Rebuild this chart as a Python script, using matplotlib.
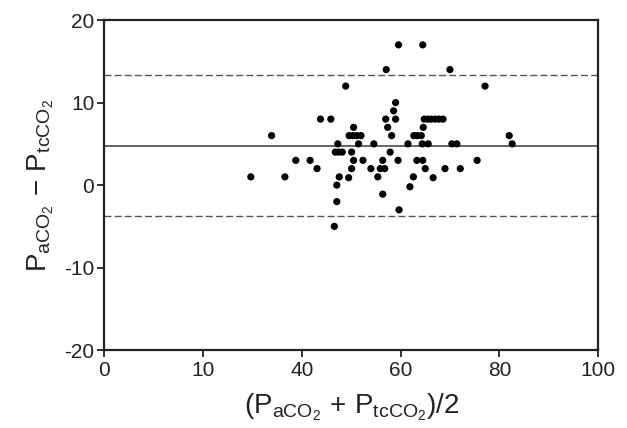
import matplotlib
matplotlib.use("Agg")
import matplotlib.pyplot as plt

plt.rcParams['font.family'] = ['Liberation Sans', 'DejaVu Sans']
plt.rcParams['mathtext.fontset'] = 'custom'
plt.rcParams['mathtext.rm'] = 'Liberation Sans'
plt.rcParams['mathtext.it'] = 'Liberation Sans:italic'
plt.rcParams['axes.unicode_minus'] = False

# Data: mean of the two measurements (x) and their difference (y)
mean_vals = [
    59.6, 64.5, 57.1, 70.0, 48.9, 77.1, 59.0, 58.6,
    43.8, 45.9, 57.0, 59.0, 64.8, 65.5, 66.2, 67.0, 67.8, 68.6,
    50.5, 57.4, 64.6,
    33.9, 49.6, 50.4, 51.2, 52.0, 58.2, 62.7, 63.4, 64.2, 82.0,
    47.3, 51.5, 54.6, 61.5, 64.4, 65.6, 70.4, 71.4, 82.6,
    46.8, 47.5, 48.2, 50.1, 57.9,
    38.8, 41.7, 50.5, 52.4, 56.4, 59.5, 63.3, 64.5, 75.5,
    43.1, 50.1, 54.0, 55.9, 56.8, 65.0, 69.0, 72.1,
    29.7, 36.6, 47.6, 49.5, 55.4, 62.6, 66.6,
    47.1, 61.9, 56.4, 47.1, 59.7, 46.6,
]
diff_vals = [
    17, 17, 14, 14, 12, 12, 10, 9,
    8, 8, 8, 8, 8, 8, 8, 8, 8, 8,
    7, 7, 7,
    6, 6, 6, 6, 6, 6, 6, 6, 6, 6,
    5, 5, 5, 5, 5, 5, 5, 5, 5,
    4, 4, 4, 4, 4,
    3, 3, 3, 3, 3, 3, 3, 3, 3,
    2, 2, 2, 2, 2, 2, 2, 2,
    1, 1, 1, 0.9, 1, 1, 0.9,
    0, -0.2, -1.1, -2, -3, -5,
]
bias = 4.8
upper_loa = 13.3
lower_loa = -3.7

xtick_pos = [0, 20, 40, 60, 80, 100]
xtick_labels = ["0", "10", "40", "60", "80", "100"]
ytick_pos = [-20, -10, 0, 10, 20]

fig = plt.figure(figsize=(6.27, 4.28), dpi=100)
ax = fig.add_axes([0.166, 0.182, 0.788, 0.771])

ax.axhline(bias, color='#4a4a4a', lw=1.2, zorder=1)
ax.axhline(upper_loa, color='#555555', lw=1.0, ls=(0, (5, 2.3)), zorder=1)
ax.axhline(lower_loa, color='#555555', lw=1.0, ls=(0, (5, 2.3)), zorder=1)

ax.scatter(mean_vals, diff_vals, s=27, color='black', edgecolors='none', zorder=3)

ax.set_xlim(0, 100)
ax.set_ylim(-20, 20)
ax.set_xticks(xtick_pos)
ax.set_xticklabels(xtick_labels)
ax.set_yticks(ytick_pos)

for sp in ax.spines.values():
    sp.set_linewidth(1.6)
    sp.set_color('#222222')

ax.tick_params(axis='both', direction='out', length=5, width=1.3, labelsize=15, colors='#222222')
ax.tick_params(axis='x', pad=3)
ax.tick_params(axis='y', pad=2)

ax.set_xlabel(r'$\mathrm{(P_{aCO_2}\,+\,P_{tcCO_2})/2}$', fontsize=20, labelpad=8, color='#222222')
ax.set_ylabel(r'$\mathrm{P_{aCO_2}\,-\,P_{tcCO_2}}$', fontsize=20, labelpad=6, color='#222222')

fig.savefig('out.png', dpi=100)
